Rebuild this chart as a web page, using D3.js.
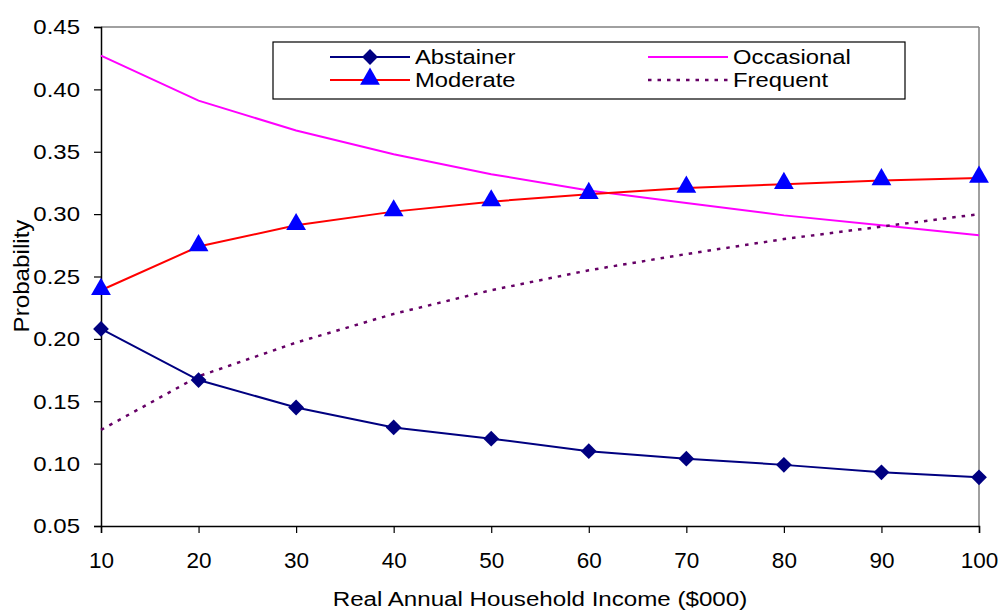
<!DOCTYPE html>
<html><head><meta charset="utf-8">
<script src="https://cdn.jsdelivr.net/npm/d3@7"></script>
<style>body{margin:0;background:#fff;} svg{display:block;font-family:"Liberation Sans",Arial,sans-serif;}</style>
</head><body><svg id="c" width="1001" height="610"></svg>
<script>
const incomes = [10,20,30,40,50,60,70,80,90,100];
const abstainer = [0.208,0.167,0.145,0.129,0.120,0.110,0.104,0.099,0.093,0.089];
const moderate = [0.239,0.274,0.291,0.302,0.310,0.316,0.321,0.324,0.327,0.329];
const occasional = [0.427,0.391,0.367,0.348,0.332,0.319,0.309,0.299,0.291,0.283];
const frequent = [0.127,0.170,0.197,0.220,0.239,0.255,0.268,0.280,0.290,0.300];
const yTicks = [0.05,0.10,0.15,0.20,0.25,0.30,0.35,0.40,0.45];
const xTicks = [10,20,30,40,50,60,70,80,90,100];

const svg = d3.select("#c");
const L=101, R=979, T=27, B=526;
const x = d3.scaleLinear().domain([10,100]).range([L,R]);
const y = d3.scaleLinear().domain([0.05,0.45]).range([B,T]);

svg.append("line").attr("x1",L).attr("x2",R).attr("y1",T).attr("y2",T).attr("stroke","#808080").attr("stroke-width",1.5);
svg.append("line").attr("x1",R).attr("x2",R).attr("y1",T).attr("y2",B).attr("stroke","#808080").attr("stroke-width",1.5);

const yAxis = svg.append("g").attr("transform",`translate(${L},0)`)
  .call(d3.axisLeft(y).tickValues(yTicks).tickFormat(d3.format(".2f")).tickSize(7));
const xAxis = svg.append("g").attr("transform",`translate(0,${B})`)
  .call(d3.axisBottom(x).tickValues(xTicks).tickSize(7));
[yAxis,xAxis].forEach(g=>{
  g.select(".domain").attr("stroke","#000").attr("stroke-width",1.5);
  g.selectAll(".tick line").attr("stroke","#000").attr("stroke-width",1.2);
  g.selectAll(".tick text").attr("fill","#000").attr("font-family","Liberation Sans, Arial, sans-serif");
});
yAxis.selectAll(".tick text").attr("x",0).attr("dy",null).attr("y",0)
  .attr("font-size",20).attr("dominant-baseline","central")
  .attr("transform","translate(-21,0) scale(1.2,1)");
xAxis.selectAll(".tick text").attr("y",0).attr("dy",null)
  .attr("font-size",22.5).attr("transform","translate(0,42)");

svg.append("text").attr("transform","translate(540,606) scale(1.15,1)").attr("text-anchor","middle").attr("font-size",21).text("Real Annual Household Income ($000)");
svg.append("text").attr("transform","translate(29,276) rotate(-90) scale(1.1,1)").attr("text-anchor","middle").attr("font-size",22).text("Probability");

const line = d3.line().x((d,i)=>x(incomes[i])).y(d=>y(d));
svg.append("path").datum(occasional).attr("d",line).attr("fill","none").attr("stroke","#ff00ff").attr("stroke-width",2);
svg.append("path").datum(frequent).attr("d",line).attr("fill","none").attr("stroke","#660066").attr("stroke-width",2.5).attr("stroke-dasharray","3.5,6");
svg.append("path").datum(moderate).attr("d",line).attr("fill","none").attr("stroke","#ff0000").attr("stroke-width",2);
svg.append("path").datum(abstainer).attr("d",line).attr("fill","none").attr("stroke","#000080").attr("stroke-width",2);

const diamond = d3.symbol().type(d3.symbolSquare).size(125);
svg.selectAll(".dia").data(abstainer).join("path").attr("d",diamond())
  .attr("transform",(d,i)=>`translate(${x(incomes[i])},${y(d)}) rotate(45)`).attr("fill","#000080");
const tri = d3.symbol().type(d3.symbolTriangle).size(170);
svg.selectAll(".tri").data(moderate).join("path").attr("d",tri())
  .attr("transform",(d,i)=>`translate(${x(incomes[i])},${y(d)-1})`).attr("fill","#0000ff");

// legend
const lg = svg.append("g");
lg.append("rect").attr("x",273).attr("y",42).attr("width",632).attr("height",57).attr("fill","#fff").attr("stroke","#000").attr("stroke-width",1.2);
const items = [
  {name:"Abstainer", color:"#000080", dash:null, sym:"d", lx:330, ly:57},
  {name:"Moderate", color:"#ff0000", dash:null, sym:"t", lx:330, ly:80},
  {name:"Occasional", color:"#ff00ff", dash:null, sym:null, lx:648, ly:57},
  {name:"Frequent", color:"#660066", dash:"3.5,6", sym:null, lx:648, ly:80}
];
items.forEach(it=>{
  lg.append("line").attr("x1",it.lx).attr("x2",it.lx+80).attr("y1",it.ly).attr("y2",it.ly)
    .attr("stroke",it.color).attr("stroke-width",it.dash?2.5:2).attr("stroke-dasharray",it.dash);
  if(it.sym==="d") lg.append("path").attr("d",diamond()).attr("transform",`translate(${it.lx+40},${it.ly}) rotate(45)`).attr("fill","#000080");
  if(it.sym==="t") lg.append("path").attr("d",tri()).attr("transform",`translate(${it.lx+40},${it.ly-1})`).attr("fill","#0000ff");
  lg.append("text").attr("transform",`translate(${it.lx+85},${it.ly+7}) scale(1.22,1)`).attr("font-size",19.5).text(it.name);
});
</script></body></html>
